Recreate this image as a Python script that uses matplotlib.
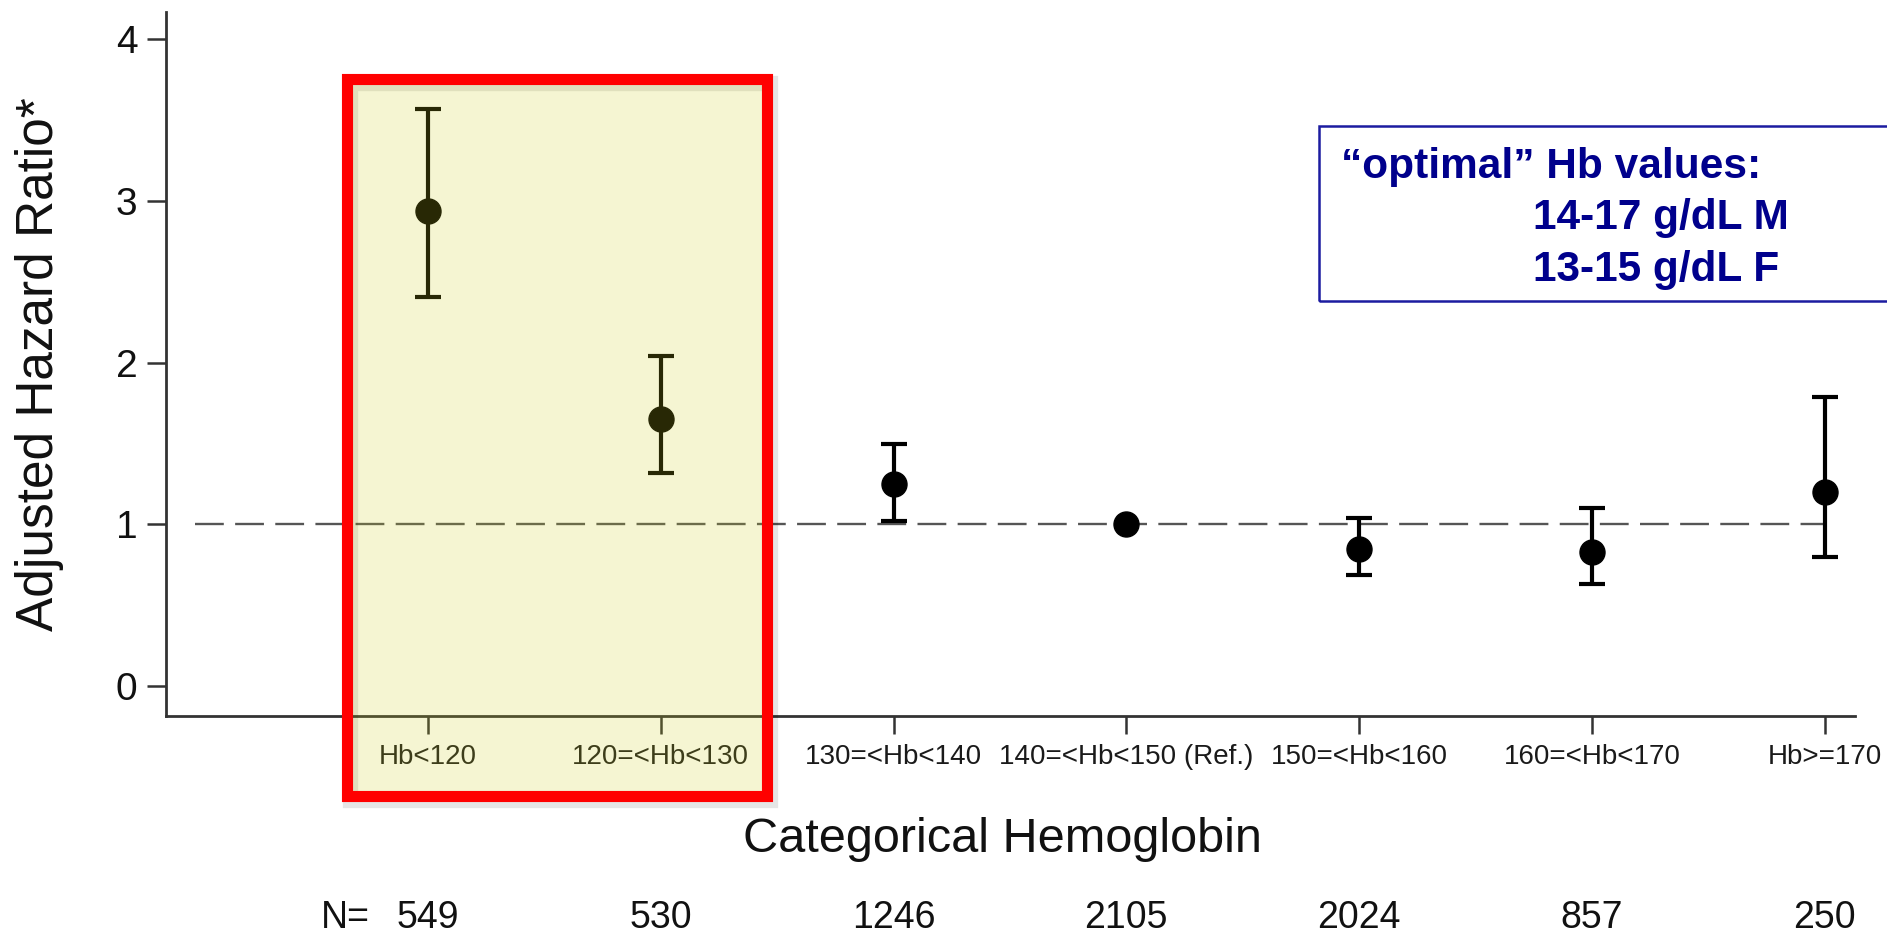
import matplotlib
matplotlib.use("Agg")

import matplotlib.pyplot as plt
import matplotlib.transforms as mtransforms
from matplotlib.patches import Rectangle
import numpy as np

plt.rcParams["font.family"] = ["Liberation Sans", "DejaVu Sans"]

# data

categories = [
    "Hb<120",
    "120=<Hb<130",
    "130=<Hb<140",
    "140=<Hb<150 (Ref.)",
    "150=<Hb<160",
    "160=<Hb<170",
    "Hb>=170",
]

hazard_ratio = [2.94, 1.65, 1.25, 1.00, 0.85, 0.83, 1.20]
ci_lower = [2.41, 1.32, 1.02, 1.00, 0.69, 0.63, 0.80]
ci_upper = [3.57, 2.04, 1.50, 1.00, 1.04, 1.10, 1.79]

n_counts = [549, 530, 1246, 2105, 2024, 857, 250]

W, H = 1887, 933
DPI = 100

fig = plt.figure(
    figsize=(W / DPI, H / DPI),
    dpi=DPI
)

ax = fig.add_axes([
    166 / W,
    217 / H,
    (1855 - 166) / W,
    (921 - 217) / H
])

x = np.arange(1, len(categories) + 1)
hr = np.array(hazard_ratio)
err = np.vstack([
    hr - np.array(ci_lower),
    np.array(ci_upper) - hr
])

# reference line at HR = 1

ax.plot(
    [0, len(categories)],
    [1, 1],
    color="#555555",
    lw=1.7,
    linestyle=(0, (12.2, 4.8)),
    zorder=1
)

# the reference category has no interval
has_ci = err.sum(axis=0) > 0

ax.errorbar(
    x[has_ci],
    hr[has_ci],
    yerr=err[:, has_ci],
    fmt="o",
    color="black",
    ms=18,
    elinewidth=3,
    capsize=9.5,
    capthick=3,
    zorder=3
)

ax.plot(
    x[~has_ci],
    hr[~has_ci],
    "o",
    color="black",
    ms=18,
    zorder=3
)

ax.set_xlim(-0.125, 7.13)
ax.set_ylim(-0.185, 4.17)

ax.set_yticks([0, 1, 2, 3, 4])
ax.set_xticks(x)
ax.set_xticklabels(categories)

for side in ["top", "right"]:
    ax.spines[side].set_visible(False)

for side in ["left", "bottom"]:
    ax.spines[side].set_color("#333333")
    ax.spines[side].set_linewidth(2)

ax.tick_params(
    axis="y",
    length=13.5,
    width=1.8,
    color="#333333",
    pad=7,
    labelsize=28,
    labelcolor="#111111"
)

ax.tick_params(
    axis="x",
    length=13,
    width=1.8,
    color="#333333",
    pad=7.5,
    labelsize=20,
    labelcolor="#1a1a1a"
)

fig.text(
    53 / W,
    1 - 364 / H,
    "Adjusted Hazard Ratio*",
    fontsize=37,
    color="#111111",
    rotation=90,
    rotation_mode="anchor",
    ha="center",
    va="baseline"
)

fig.text(
    1002 / W,
    1 - 840 / H,
    "Categorical Hemoglobin",
    fontsize=35,
    color="#111111",
    ha="center",
    va="center"
)

# N row below the axis

n_trans = mtransforms.blended_transform_factory(
    ax.transData,
    fig.transFigure
)

for xi, n in zip(x, n_counts):
    ax.text(
        xi,
        1 - 928 / H,
        str(n),
        transform=n_trans,
        fontsize=27,
        color="#111111",
        ha="center",
        va="baseline",
        clip_on=False
    )

ax.text(
    0.75,
    1 - 928 / H,
    "N=",
    transform=n_trans,
    fontsize=27,
    color="#111111",
    ha="right",
    va="baseline",
    clip_on=False
)

# highlighted low-Hb categories

box_x0, box_x1 = 0.652, 2.458
box_y0, box_y1 = -0.68, 3.753

shadow = Rectangle(
    (box_x0, box_y0),
    box_x1 - box_x0,
    box_y1 - box_y0,
    fill=False,
    edgecolor=(0, 0, 0, 0.10),
    lw=11,
    transform=ax.transData + mtransforms.ScaledTranslation(
        3 / DPI, -4 / DPI, fig.dpi_scale_trans
    ),
    zorder=4
)
fig.add_artist(shadow)

overlay = Rectangle(
    (box_x0, box_y0),
    box_x1 - box_x0,
    box_y1 - box_y0,
    facecolor=(205 / 255, 205 / 255, 30 / 255, 0.2),
    edgecolor="none",
    transform=ax.transData,
    zorder=5
)
fig.add_artist(overlay)

red_frame = Rectangle(
    (box_x0, box_y0),
    box_x1 - box_x0,
    box_y1 - box_y0,
    fill=False,
    edgecolor="#ff0000",
    lw=8,
    joinstyle="miter",
    transform=ax.transData,
    zorder=6
)
fig.add_artist(red_frame)

# "optimal" Hb note

note_box = Rectangle(
    (1319 / W, 1 - 301 / H),
    (1900 - 1319) / W,
    (301 - 126) / H,
    fill=False,
    edgecolor="#1c1ca0",
    lw=1.8,
    transform=fig.transFigure,
    zorder=6
)
fig.add_artist(note_box)

note_lines = [
    (1341, 178, "\u201coptimal\u201d Hb values:"),
    (1533, 229, "14-17 g/dL M"),
    (1533, 281, "13-15 g/dL F"),
]

for px, py, txt in note_lines:
    fig.text(
        px / W,
        1 - py / H,
        txt,
        fontsize=30.5,
        fontweight="bold",
        color="#00008c",
        ha="left",
        va="baseline"
    )

fig.savefig("out.png", dpi=DPI)
